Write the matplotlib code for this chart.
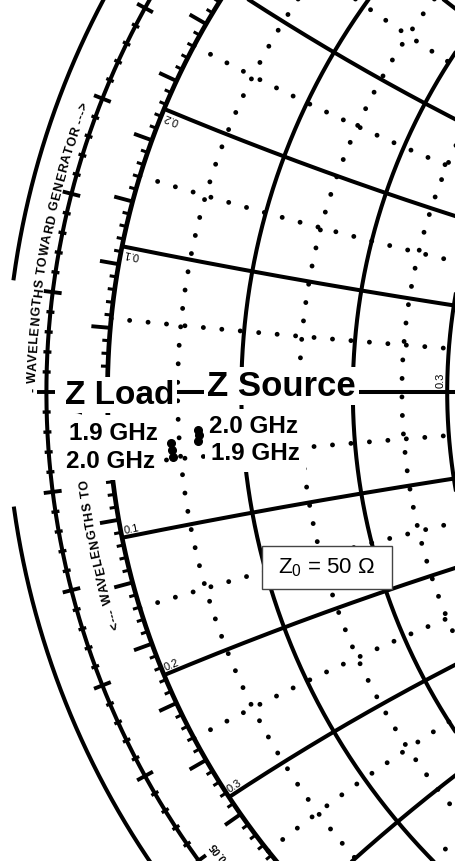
import numpy as np
import matplotlib.pyplot as plt
from matplotlib.collections import LineCollection
from matplotlib.patches import Rectangle
from matplotlib.font_manager import FontProperties
from matplotlib.textpath import TextToPath

plt.rcParams['font.family'] = ['Liberation Sans', 'DejaVu Sans']

# Smith chart grid (normalized impedance)
solid_r = [0.1, 0.2, 0.3, 0.4, 0.5, 1.0, 2.0]
dotted_r = [0.05, 0.15, 0.25, 0.35, 0.45]
solid_x = [0.1, 0.2, 0.3, 0.4, 0.5, 1.0, 2.0]
dotted_x = [0.05, 0.15, 0.25, 0.35, 0.45]
reactance_labels_pos = [0.1, 0.2]
reactance_labels_neg = [0.1, 0.2, 0.3]
resistance_labels = [0.3]

# measured impedances, normalized to Z0 = 50 ohm (1.9 .. 2.0 GHz)
load_r = [0.044, 0.044, 0.044]
load_x = [-0.038, -0.043, -0.048]
source_r = [0.065, 0.065, 0.064]
source_x = [-0.029, -0.033, -0.038]

# outer scales
angle_step_deg = 1          # reflection coefficient angle, long tick every 5
wl_step = 0.002             # wavelengths, cross every 0.01
wl_labels = [0.05]

# view window: the chart is cropped to its left side
W, H = 456, 861
PX = 736.0                  # pixels per unit |Gamma|
cx_px, cy_px = 843.5, 392.0


def gamma(z):
    return (z - 1) / (z + 1)


fig = plt.figure(figsize=(W / 100, H / 100), dpi=100)
ax = fig.add_axes([0, 0, 1, 1])
ax.set_xlim(-cx_px / PX, (W - cx_px) / PX)
ax.set_ylim((cy_px - H) / PX, cy_px / PX)
ax.axis('off')

SOLID = dict(color='black', lw=2.9, solid_capstyle='butt', zorder=2)
DOTS = dict(color='black', lw=3.5, linestyle=(0, (0.01, 3.8)),
            dash_capstyle='round', zorder=2)

t = np.linspace(0, 2 * np.pi, 3000)
rs = np.concatenate([[0], np.logspace(-4, 3, 4000)])

# resistance circles
for r, style in [(r, SOLID) for r in solid_r] + [(r, DOTS) for r in dotted_r]:
    g = r / (1 + r) + np.exp(1j * t) / (1 + r)
    ax.plot(g.real, g.imag, **style)

# reactance arcs
for x, style in [(x, SOLID) for x in solid_x] + [(x, DOTS) for x in dotted_x]:
    for sx in (1, -1):
        g = gamma(rs + 1j * sx * x)
        ax.plot(g.real, g.imag, **style)

# real axis and boundary
g = gamma(rs)
ax.plot(np.r_[-1, g.real], np.r_[0, g.imag], **SOLID)
ax.plot(np.cos(t), np.sin(t), color='black', lw=3.4, zorder=2)

# angle ticks on the boundary
segs = []
widths = []
for d in np.arange(0, 360, angle_step_deg):
    a = np.deg2rad(d)
    L = 19 / PX if d % 5 == 0 else 7 / PX
    segs.append([(np.cos(a), np.sin(a)), ((1 + L) * np.cos(a), (1 + L) * np.sin(a))])
    widths.append(2.8 if d % 5 == 0 else 2.2)
ax.add_collection(LineCollection(segs, colors='black', linewidths=widths, zorder=2))

# wavelength scale circle with crosses
R_WL = 1.083
ax.plot(R_WL * np.cos(t), R_WL * np.sin(t), color='black', lw=2.9, zorder=2)
segs = []
widths = []
for i, wl in enumerate(np.arange(0, 0.5, wl_step)):
    a = np.deg2rad(180 - wl * 720)
    L = 9 / PX if i % 5 == 0 else 4 / PX
    segs.append([((R_WL - L) * np.cos(a), (R_WL - L) * np.sin(a)),
                 ((R_WL + L) * np.cos(a), (R_WL + L) * np.sin(a))])
    widths.append(2.8 if i % 5 == 0 else 2.4)
ax.add_collection(LineCollection(segs, colors='black', linewidths=widths, zorder=2))

# outermost plain circle (scan edge cuts it near the left point)
R_OUT = 1.138
a = np.deg2rad(np.linspace(188.0, 172.2 + 360, 3000))
ax.plot(R_OUT * np.cos(a), R_OUT * np.sin(a), color='black', lw=2.9, zorder=2)

t2p = TextToPath()


def arc_text(s, theta0_deg, r_base, size, track=1.0, weight='bold'):
    """Write s along a circle, clockwise, letter tops pointing outward."""
    fp = FontProperties(family='Liberation Sans', weight=weight, size=size)
    wI = t2p.get_text_width_height_descent('I', fp, ismath=False)[0]
    left = [0.0]
    for i in range(1, len(s) + 1):
        left.append(t2p.get_text_width_height_descent(s[:i] + 'I', fp, ismath=False)[0] - wI)
    left = np.array(left)
    pos = (left[:-1] + left[1:]) / 2
    pos = (pos - pos[0]) * track * (100 / 72) / PX
    for ch, p in zip(s, pos):
        th = np.deg2rad(theta0_deg) - p / r_base
        ax.text(r_base * np.cos(th), r_base * np.sin(th), ch,
                rotation=np.rad2deg(th) - 90, rotation_mode='anchor',
                ha='center', va='baseline', fontproperties=fp, zorder=3)


arc_text('- WAVELENGTHS TOWARD GENERATOR --->', 179.85, 1.097, 9.0, track=1.1)
arc_text('<--- WAVELENGTHS TOWARD LOAD', 197.8, 1.034, 9.0, track=1.1)

# wavelength scale labels
for wl in wl_labels:
    th = 180 + wl * 720
    arc_text('%.2f' % wl, th + 0.9, 1.050, 7.5, weight='bold')

# reactance labels along the boundary
off = 3 / PX
for sx, labels in [(1, reactance_labels_pos), (-1, reactance_labels_neg)]:
    for x in labels:
        p = gamma(1j * sx * x)
        th = np.angle(p)
        rot = np.rad2deg(th) if sx > 0 else np.rad2deg(th) + 180
        up = np.exp(1j * np.deg2rad(rot + 90))
        q = p * (1 - off) + up * off
        ax.text(q.real, q.imag, '%.1f' % x, rotation=rot, rotation_mode='anchor',
                ha='right' if sx > 0 else 'left', va='baseline', fontsize=8, zorder=3)

# resistance labels just above the real axis
for r in resistance_labels:
    p = gamma(r)
    ax.text(p.real - 4 / PX, 4 / PX, '%.1f' % r, rotation=90, rotation_mode='anchor',
            ha='left', va='baseline', fontsize=8, zorder=3)

# annotations
box = dict(boxstyle='square,pad=0.08', fc='white', ec='none')
gbox = dict(boxstyle='square,pad=0.25', fc='white', ec='none')
ax.text(65 / W, 1 - 395 / H, 'Z Load', transform=ax.transAxes, fontsize=24,
        fontweight='bold', va='center', ha='left', bbox=box, zorder=5)
ax.text(207 / W, 1 - 386 / H, 'Z Source', transform=ax.transAxes, fontsize=25,
        fontweight='bold', va='center', ha='left', bbox=box, zorder=5)
ax.text(69 / W, 1 - 433 / H, '1.9 GHz', transform=ax.transAxes, fontsize=17.5,
        fontweight='bold', va='center', ha='left', bbox=gbox, zorder=5)
ax.text(66 / W, 1 - 462 / H, '2.0 GHz', transform=ax.transAxes, fontsize=17.5,
        fontweight='bold', va='center', ha='left', bbox=gbox, zorder=5)
ax.text(209 / W, 1 - 427 / H, '2.0 GHz', transform=ax.transAxes, fontsize=17.5,
        fontweight='bold', va='center', ha='left', bbox=gbox, zorder=5)
ax.text(211 / W, 1 - 454 / H, '1.9 GHz', transform=ax.transAxes, fontsize=17.5,
        fontweight='bold', va='center', ha='left', bbox=gbox, zorder=5)

# impedance points
gl = gamma(np.array(load_r) + 1j * np.array(load_x))
gs = gamma(np.array(source_r) + 1j * np.array(source_x))
ax.plot(gl.real, gl.imag, 'o', color='black', ms=5.5, zorder=6)
ax.plot(gs.real, gs.imag, 'o', color='black', ms=5.5, zorder=6)

# Z0 box
ax.add_patch(Rectangle((262 / W, 1 - 589 / H), 130 / W, 43 / H, transform=ax.transAxes,
                       fc='white', ec='#444444', lw=1.0, zorder=5))
ax.text(327 / W, 1 - 568 / H, r'Z$_\mathregular{0}$ = 50 Ω', transform=ax.transAxes,
        fontsize=16, ha='center', va='center', zorder=6)

fig.savefig('out.png', dpi=100)
